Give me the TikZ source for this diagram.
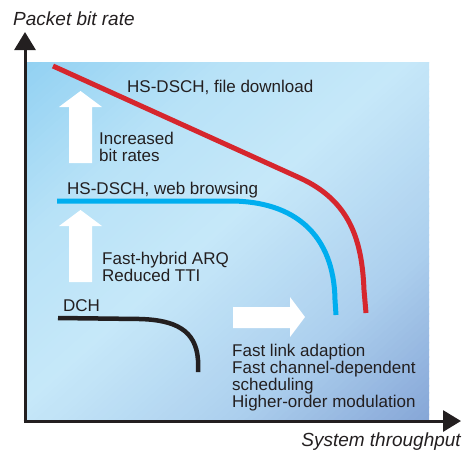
\documentclass[tikz,border=0pt]{standalone}
\usepackage{fontspec}
\setmainfont{Liberation Sans}
\usetikzlibrary{arrows.meta}
% background gradient stops, from the top-left corner to the bottom-right corner
\definecolor{bgA}{HTML}{92D1F2}
\definecolor{bgB}{HTML}{B8E2F7}
\definecolor{bgC}{HTML}{C6E8F9}
\definecolor{bgD}{HTML}{ADD0EE}
\definecolor{bgE}{HTML}{86A6D7}
\definecolor{ink}{HTML}{231F20}
\definecolor{curvered}{HTML}{D6262D}
\definecolor{curveblue}{HTML}{00AEEF}
\begin{document}
\begin{tikzpicture}[x=1pt,y=-1pt,
  lbl/.style={font=\fontsize{17}{16.8}\selectfont, text=ink, inner sep=0pt, anchor=base west, align=left},
  axlbl/.style={font=\fontsize{19}{19}\selectfont\itshape, text=ink, inner sep=0pt},
  axisline/.style={line width=3pt, draw=ink, -{Triangle[width=21pt,length=18pt]}},
  curve/.style={line width=5pt},
  blockarrow/.style={fill=white, draw=none}]
\useasboundingbox (0,0) rectangle (462,451);

% plot area: diagonal gradient built from thin strips (u+v = const)
\begin{scope}[shift={(26,62)}, x={(403pt,0pt)}, y={(0pt,-359pt)}]
  \clip (0,0) rectangle (1,1);
  \foreach \k in {0,...,99} {
    \pgfmathsetmacro\ca{\k/50}
    \pgfmathsetmacro\cb{(\k+1)/50+0.004}
    \pgfmathsetmacro\cm{(\k+0.5)/50}
    \ifdim\cm pt<0.5pt
      \pgfmathsetmacro\p{100*(0.5-\cm)/0.5}\colorlet{stripcol}{bgA!\p!bgB}
    \else\ifdim\cm pt<0.95pt
      \pgfmathsetmacro\p{100*(0.95-\cm)/0.45}\colorlet{stripcol}{bgB!\p!bgC}
    \else\ifdim\cm pt<1.5pt
      \pgfmathsetmacro\p{100*(1.5-\cm)/0.55}\colorlet{stripcol}{bgC!\p!bgD}
    \else
      \pgfmathsetmacro\p{100*(2-\cm)/0.5}\colorlet{stripcol}{bgD!\p!bgE}
    \fi\fi\fi
    \fill[stripcol] (\ca+1,-1) -- (\cb+1,-1) -- (\cb-1,1) -- (\ca-1,1) -- cycle;
  }
\end{scope}

% axes
\coordinate (ystart) at (25,422.5);
\coordinate (ytip) at (25,32);
\coordinate (xstart) at (23.5,421);
\coordinate (xtip) at (461,421);
\draw[axisline] (ystart) -- (ytip);
\draw[axisline] (xstart) -- (xtip);

% white block arrows
\fill[blockarrow] (69,163) -- (69,107) -- (59,107) -- (80.5,91) -- (102,107) -- (92,107) -- (92,163) -- cycle;
\fill[blockarrow] (69,282) -- (69,226) -- (59,226) -- (80.5,210) -- (102,226) -- (92,226) -- (92,282) -- cycle;
\fill[blockarrow] (233,307) -- (290,307) -- (290,297) -- (305,317) -- (290,337) -- (290,328) -- (233,328) -- cycle;

% throughput curves
\draw[curve, curvered] (53,66) -- (300,178) .. controls (350,201) and (362,240) .. (364,290) -- (366,313);
\draw[curve, curveblue] (57,201) -- (230,201) .. controls (295,201) and (334,235) .. (335,300) -- (336,315);
\draw[curve, line width=4.5pt, ink] (58,318) -- (140,319) .. controls (175,320) and (196,330) .. (198,360) -- (198,372);

% labels (multi-line nodes are placed by the baseline of their last line)
\node[axlbl, anchor=base west] (ylabel) at (13,25) {Packet bit rate};
\node[axlbl, anchor=base east] (xlabel) at (461,446) {System throughput};
\node[lbl] (filedl) at (127,92) {HS-DSCH, file download};
\node[lbl] (incr) at (99,161) {Increased\\bit rates};
\node[lbl] (web) at (67,194) {HS-DSCH, web browsing};
\node[lbl] (harq) at (102,281) {Fast-hybrid ARQ\\Reduced TTI};
\node[lbl] (dch) at (63,311) {DCH};
\node[lbl] (feat) at (232,407) {Fast link adaption\\Fast channel-dependent\\scheduling\\Higher-order modulation};
\end{tikzpicture}
\end{document}
